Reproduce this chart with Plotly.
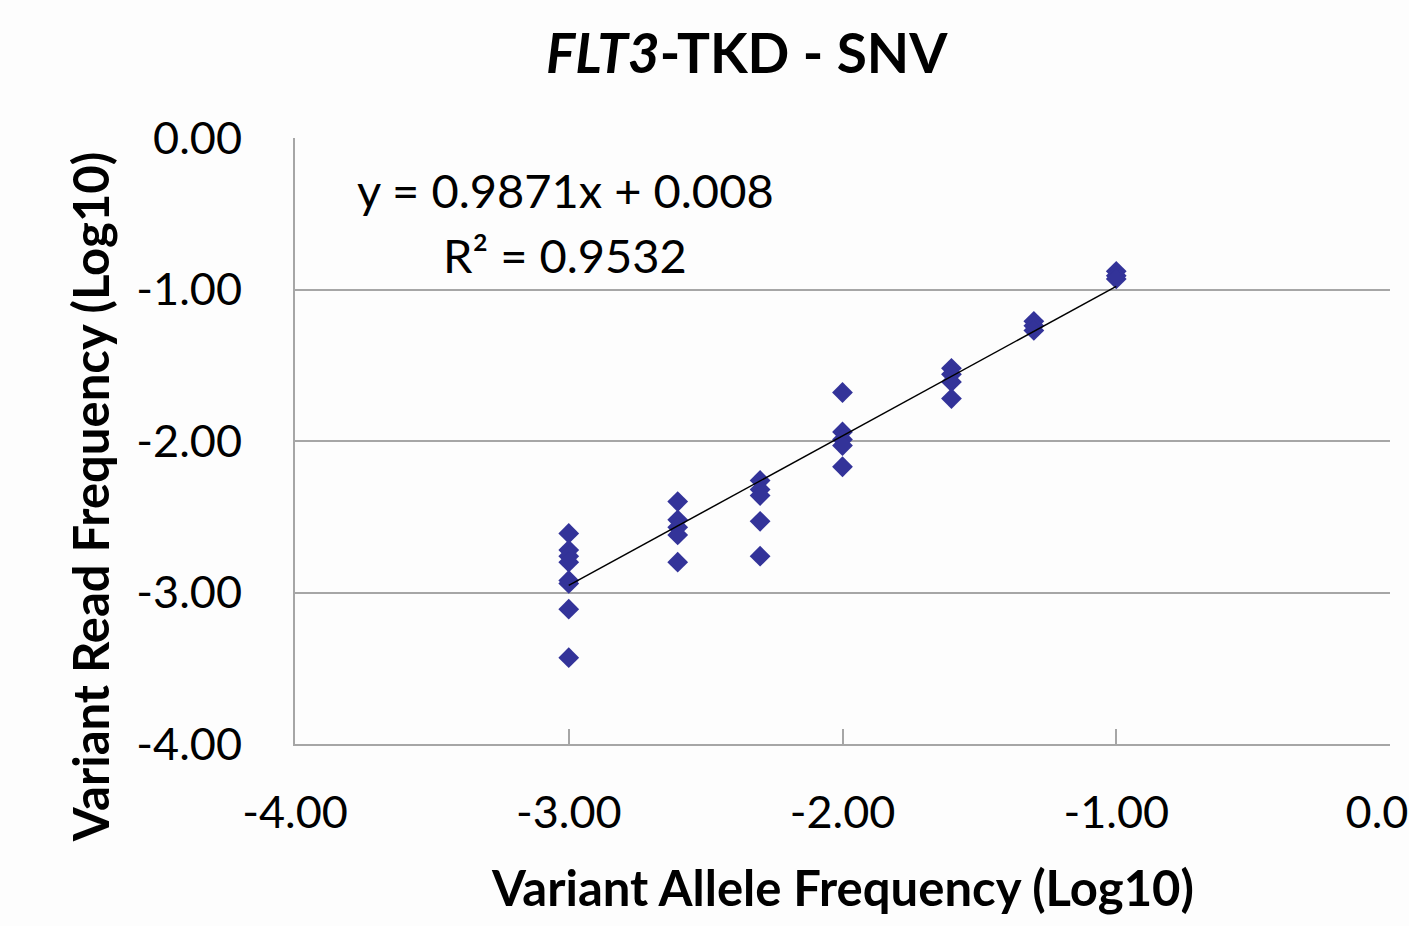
import plotly.graph_objects as go

# Data (log10 values)
vaf = [-3.0]*8 + [-2.602]*5 + [-2.301]*5 + [-2.0]*5 + [-1.602]*4 + [-1.301]*3 + [-1.0]*3
vrf = [-2.61, -2.72, -2.76, -2.80, -2.92, -2.94, -3.11, -3.43,
       -2.40, -2.52, -2.57, -2.62, -2.80,
       -2.26, -2.32, -2.36, -2.53, -2.76,
       -1.68, -1.94, -1.99, -2.03, -2.17,
       -1.52, -1.56, -1.61, -1.72,
       -1.21, -1.24, -1.27,
       -0.88, -0.91, -0.93]
slope = 0.9871
intercept = 0.008
r2 = 0.9532
tick_vals = [-4, -3, -2, -1, 0]
tick_text = ["-4.00", "-3.00", "-2.00", "-1.00", "0.00"]

FONT = "Lato"
GRID = "#a6a6a6"

trend_x = [min(vaf), max(vaf)]
trend_y = [slope * v + intercept for v in trend_x]

fig = go.Figure()
fig.add_trace(go.Scatter(x=vaf, y=vrf, mode="markers",
                         marker=dict(symbol="diamond", size=16, color="#333399",
                                     line=dict(width=0)),
                         showlegend=False))
fig.add_trace(go.Scatter(x=trend_x, y=trend_y, mode="lines",
                         line=dict(color="black", width=1.5), showlegend=False))

fig.update_layout(
    width=1409, height=926,
    margin=dict(l=295, r=19, t=138, b=182),
    paper_bgcolor="#fdfdfd", plot_bgcolor="#fdfdfd",
    font=dict(family=FONT, size=45, color="black"),
    showlegend=False,
)
fig.update_xaxes(range=[-4, 0], tickvals=tick_vals, ticktext=tick_text,
                 showgrid=False, zeroline=False, showline=True, linecolor=GRID, linewidth=2,
                 ticks="inside", ticklen=15, tickwidth=2, tickcolor=GRID,
                 ticklabeloverflow="allow", automargin=False,
                 ticklabelstandoff=28, tickfont=dict(family=FONT, size=45))
fig.update_yaxes(range=[-4, 0], tickvals=tick_vals, ticktext=tick_text,
                 showgrid=True, gridcolor=GRID, gridwidth=1.5, zeroline=False,
                 showline=True, linecolor=GRID, linewidth=2, ticks="", automargin=False,
                 ticklabelstandoff=42, tickfont=dict(family=FONT, size=45))

ann = [
    dict(text="<b><i>FLT3</i>-TKD - SNV</b>", x=0.413, y=1.142, size=55),
    dict(text="y = %.4fx + %.3f" % (slope, intercept), x=0.2466, y=0.914, size=47),
    dict(text="R² = %.4f" % r2, x=0.2466, y=0.807, size=47),
    dict(text="<b>Variant Allele Frequency (Log10)</b>", x=0.5, y=-0.236, size=49),
]
for a in ann:
    fig.add_annotation(text=a["text"], x=a["x"], y=a["y"], xref="paper", yref="paper",
                       showarrow=False, xanchor="center", yanchor="middle",
                       font=dict(family=FONT, size=a["size"], color="black"))
fig.add_annotation(text="<b>Variant Read Frequency (Log10)</b>", x=-0.187, y=0.4076,
                   xref="paper", yref="paper", showarrow=False, textangle=-90,
                   xanchor="center", yanchor="middle",
                   font=dict(family=FONT, size=49, color="black"))

fig.write_html("out.html")
